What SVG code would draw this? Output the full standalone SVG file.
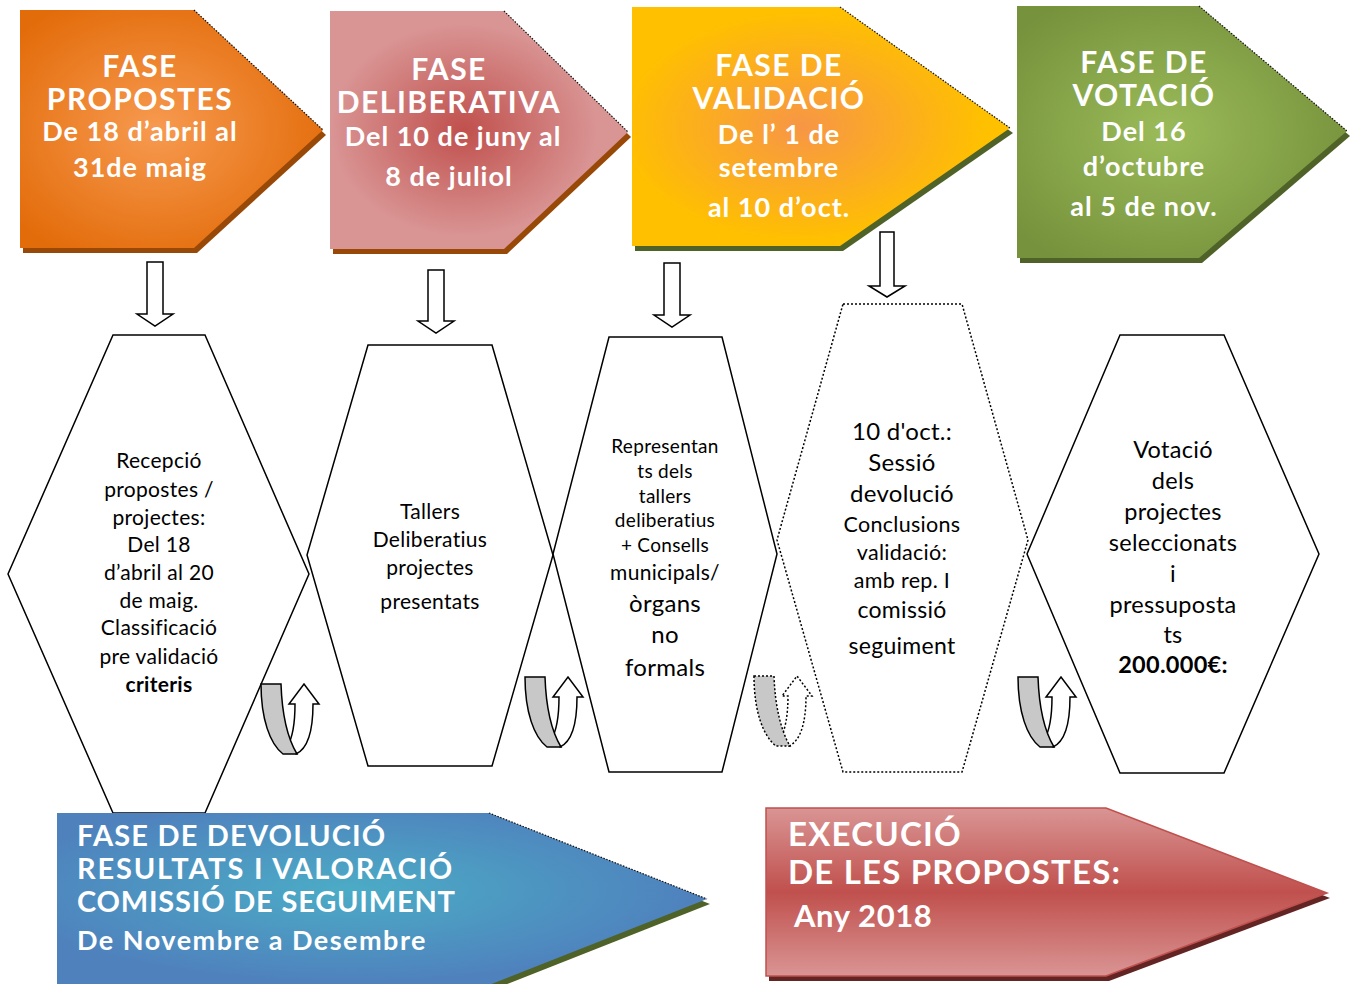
<svg xmlns="http://www.w3.org/2000/svg" width="1352" height="984" viewBox="0 0 1352 984">
<style>
.ph{font-family:Lato,"Open Sans","Liberation Sans",sans-serif;font-weight:bold;fill:#fff;text-anchor:middle}
.t1{font-size:30px;letter-spacing:1.5px}
.t2{font-size:27px;letter-spacing:1px}
.hx{fill:none;stroke:#000;stroke-width:1.5}
.dot{stroke-dasharray:2 2}
.ht{font-family:Lato,"Open Sans","Liberation Sans",sans-serif;fill:#000;text-anchor:middle;font-size:21px;letter-spacing:0.3px}
.b{font-weight:bold}
.darr{fill:#fff;stroke:#000;stroke-width:1.5}
.ug{fill:#c8c8c8;stroke:#000;stroke-width:1.5}
.uw{fill:#fff;stroke:#000;stroke-width:1.5}
.edge{fill:none;stroke:#111;stroke-width:1.2;stroke-dasharray:1.5 1.5}
.bt{font-family:Lato,"Open Sans","Liberation Sans",sans-serif;font-weight:bold;fill:#fff}
</style>
<defs>
<radialGradient id="gOr" cx="0.45" cy="0.5" r="0.6"><stop offset="0" stop-color="#f79a50"/><stop offset="1" stop-color="#e36c0a"/></radialGradient>
<radialGradient id="gPk" cx="0.45" cy="0.5" r="0.6"><stop offset="0" stop-color="#c0504d"/><stop offset="0.75" stop-color="#d99594"/></radialGradient>
<radialGradient id="gYe" cx="0.45" cy="0.5" r="0.6"><stop offset="0" stop-color="#f79646"/><stop offset="0.8" stop-color="#ffc000"/></radialGradient>
<radialGradient id="gGr" cx="0.45" cy="0.5" r="0.6"><stop offset="0" stop-color="#9bbb59"/><stop offset="1" stop-color="#76923c"/></radialGradient>
<radialGradient id="gBl" cx="0.45" cy="0.45" r="0.6"><stop offset="0" stop-color="#4bacc6"/><stop offset="0.9" stop-color="#4f81bd"/></radialGradient>
<linearGradient id="gRd" x1="0" y1="0" x2="0" y2="1"><stop offset="0" stop-color="#d99594"/><stop offset="0.5" stop-color="#c0504d"/><stop offset="1" stop-color="#d99594"/></linearGradient>
<g id="uturn">
<path class="uw" d="M36,70 C47,65 53,48 53,20 L59,20 L44,0 L29,20 L35,20 C35,40 32,55 27,63 Z"/>
<path class="ug" d="M1,0 L21,0 C22,30 28,55 37,70 L23,70 C10,60 1,35 1,0 Z"/>
</g>
</defs>

<g id="fase-propostes">
<polygon points="23,15 197,15 326,135 197,253 23,253" fill="#984807"/>
<polygon points="20,10 194,10 323,130 194,248 20,248" fill="url(#gOr)"/>
<line class="edge" x1="194" y1="10" x2="323" y2="130"/>
<text class="ph t1" x="140" y="77">FASE</text>
<text class="ph t1" x="140" y="110">PROPOSTES</text>
<text class="ph t2" x="140" y="141">De 18 d’abril al</text>
<text class="ph t2" x="140" y="177">31de maig</text>
</g>

<g id="fase-deliberativa">
<polygon points="333,16 507,16 631,137 507,254 333,254" fill="#984807"/>
<polygon points="330,11 504,11 628,132 504,249 330,249" fill="url(#gPk)"/>
<line class="edge" x1="504" y1="11" x2="628" y2="132"/>
<text class="ph t1" x="449" y="80">FASE</text>
<text class="ph t1" x="449" y="113">DELIBERATIVA</text>
<text class="ph t2" x="453" y="146">Del 10 de juny al</text>
<text class="ph t2" x="449" y="186">8 de juliol</text>
</g>

<g id="fase-validacio">
<polygon points="635,12 843,12 1013,133 843,251 635,251" fill="#4f6228"/>
<polygon points="632,7 840,7 1010,128 840,246 632,246" fill="url(#gYe)"/>
<line class="edge" x1="840" y1="7" x2="1010" y2="128"/>
<text class="ph t1" x="779" y="76">FASE DE</text>
<text class="ph t1" x="779" y="109">VALIDACIÓ</text>
<text class="ph t2" x="779" y="144">De l’ 1 de</text>
<text class="ph t2" x="779" y="177">setembre</text>
<text class="ph t2" x="779" y="217">al 10 d’oct.</text>
</g>

<g id="fase-votacio">
<polygon points="1020,11 1202,11 1350,136 1202,263 1020,263" fill="#4f6228"/>
<polygon points="1017,6 1199,6 1347,131 1199,258 1017,258" fill="url(#gGr)"/>
<line class="edge" x1="1199" y1="6" x2="1347" y2="131"/>
<text class="ph t1" x="1144" y="73">FASE DE</text>
<text class="ph t1" x="1144" y="106">VOTACIÓ</text>
<text class="ph t2" x="1144" y="141">Del 16</text>
<text class="ph t2" x="1144" y="176">d’octubre</text>
<text class="ph t2" x="1144" y="216">al 5 de nov.</text>
</g>

<g id="hex-recepcio">
<polygon class="hx" points="113,335 205,335 309,574 205,813 113,813 8,574"/>
<text class="ht" x="159" y="468">Recepció</text>
<text class="ht" x="159" y="497">propostes /</text>
<text class="ht" x="159" y="525">projectes:</text>
<text class="ht" x="159" y="552">Del 18</text>
<text class="ht" x="159" y="580">d’abril al 20</text>
<text class="ht" x="159" y="608">de maig.</text>
<text class="ht" x="159" y="635">Classificació</text>
<text class="ht" x="159" y="664">pre validació</text>
<text class="ht b" x="159" y="692">criteris</text>
</g>

<g id="hex-tallers">
<polygon class="hx" points="368,345 492,345 553,555 492,766 368,766 307,555"/>
<text class="ht" x="430" y="519">Tallers</text>
<text class="ht" x="430" y="547">Deliberatius</text>
<text class="ht" x="430" y="575">projectes</text>
<text class="ht" x="430" y="609">presentats</text>
</g>

<g id="hex-representants">
<polygon class="hx" points="609,337 722,337 777,554 722,772 609,772 553,554"/>
<text class="ht" x="665" y="453" style="font-size:19px">Representan</text>
<text class="ht" x="665" y="478" style="font-size:19px">ts dels</text>
<text class="ht" x="665" y="503" style="font-size:19px">tallers</text>
<text class="ht" x="665" y="527" style="font-size:19px">deliberatius</text>
<text class="ht" x="665" y="552" style="font-size:19px">+ Consells</text>
<text class="ht" x="665" y="580">municipals/</text>
<text class="ht" x="665" y="612" style="font-size:24px">òrgans</text>
<text class="ht" x="665" y="643" style="font-size:24px">no</text>
<text class="ht" x="665" y="676" style="font-size:24px">formals</text>
</g>

<g id="hex-sessio">
<polygon class="hx dot" points="843,304 962,304 1028,540 962,772 843,772 777,540"/>
<text class="ht" x="902" y="440" style="font-size:24px">10 d'oct.:</text>
<text class="ht" x="902" y="471" style="font-size:24px">Sessió</text>
<text class="ht" x="902" y="502" style="font-size:24px">devolució</text>
<text class="ht" x="902" y="532" style="font-size:21.5px">Conclusions</text>
<text class="ht" x="902" y="560" style="font-size:21.5px">validació:</text>
<text class="ht" x="902" y="588" style="font-size:21.5px">amb rep. I</text>
<text class="ht" x="902" y="618" style="font-size:23px">comissió</text>
<text class="ht" x="902" y="654" style="font-size:23px">seguiment</text>
</g>

<g id="hex-votacio">
<polygon class="hx" points="1120,335 1224,335 1319,554 1224,773 1120,773 1027,554"/>
<text class="ht" x="1173" y="458" style="font-size:23.5px">Votació</text>
<text class="ht" x="1173" y="489" style="font-size:23.5px">dels</text>
<text class="ht" x="1173" y="520" style="font-size:23.5px">projectes</text>
<text class="ht" x="1173" y="551" style="font-size:23.5px">seleccionats</text>
<text class="ht" x="1173" y="582" style="font-size:23.5px">i</text>
<text class="ht" x="1173" y="613" style="font-size:23.5px">pressuposta</text>
<text class="ht" x="1173" y="643" style="font-size:23.5px">ts</text>
<text class="ht b" x="1173" y="673" style="font-size:23.5px">200.000€:</text>
</g>

<g id="fase-devolucio">
<polygon points="60,818 492,818 710,904 492,990 60,990" fill="#4f6228"/>
<polygon points="57,813 489,813 707,899 489,985 57,985" fill="url(#gBl)"/>
<line class="edge" x1="489" y1="813" x2="707" y2="899"/>
<text class="bt" x="77" y="846" style="font-size:29px;letter-spacing:1.2px">FASE DE DEVOLUCIÓ</text>
<text class="bt" x="77" y="879" style="font-size:29px;letter-spacing:1.8px">RESULTATS I VALORACIÓ</text>
<text class="bt" x="77" y="912" style="font-size:29px;letter-spacing:0.8px">COMISSIÓ DE SEGUIMENT</text>
<text class="bt" x="77" y="950" style="font-size:27px;letter-spacing:1.5px">De Novembre a Desembre</text>
</g>

<g id="execucio">
<polygon points="769,813 1109,813 1330,898 1109,981 769,981" fill="#632523"/>
<polygon points="766,808 1106,808 1327,893 1106,976 766,976" fill="url(#gRd)" stroke="#c0504d" stroke-width="1.5"/>
<text class="bt" x="788" y="846" style="font-size:33px;letter-spacing:1.2px">EXECUCIÓ</text>
<text class="bt" x="788" y="884" style="font-size:33px;letter-spacing:1.2px">DE LES PROPOSTES:</text>
<text class="bt" x="794" y="927" style="font-size:31px;letter-spacing:0.6px">Any 2018</text>
</g>

<g id="connectors">
<path class="darr" d="M147,262 H163 V314 H173 L155,326 L137,314 H147 Z"/>
<path class="darr" d="M428,270 H444 V321 H454 L436,333 L418,321 H428 Z"/>
<path class="darr" d="M664,263 H680 V315 H690 L672,327 L654,315 H664 Z"/>
<path class="darr" d="M880,232 H894 V286 H905 L887,297 L869,286 H880 Z"/>
<use href="#uturn" x="260" y="684"/>
<use href="#uturn" x="524" y="677"/>
<g transform="translate(753,676)">
<path class="uw dot" d="M36,70 C47,65 53,48 53,20 L59,20 L44,0 L29,20 L35,20 C35,40 32,55 27,63 Z"/>
<path class="ug dot" d="M1,0 L21,0 C22,30 28,55 37,70 L23,70 C10,60 1,35 1,0 Z"/>
</g>
<use href="#uturn" x="1017" y="677"/>
</g>
</svg>
